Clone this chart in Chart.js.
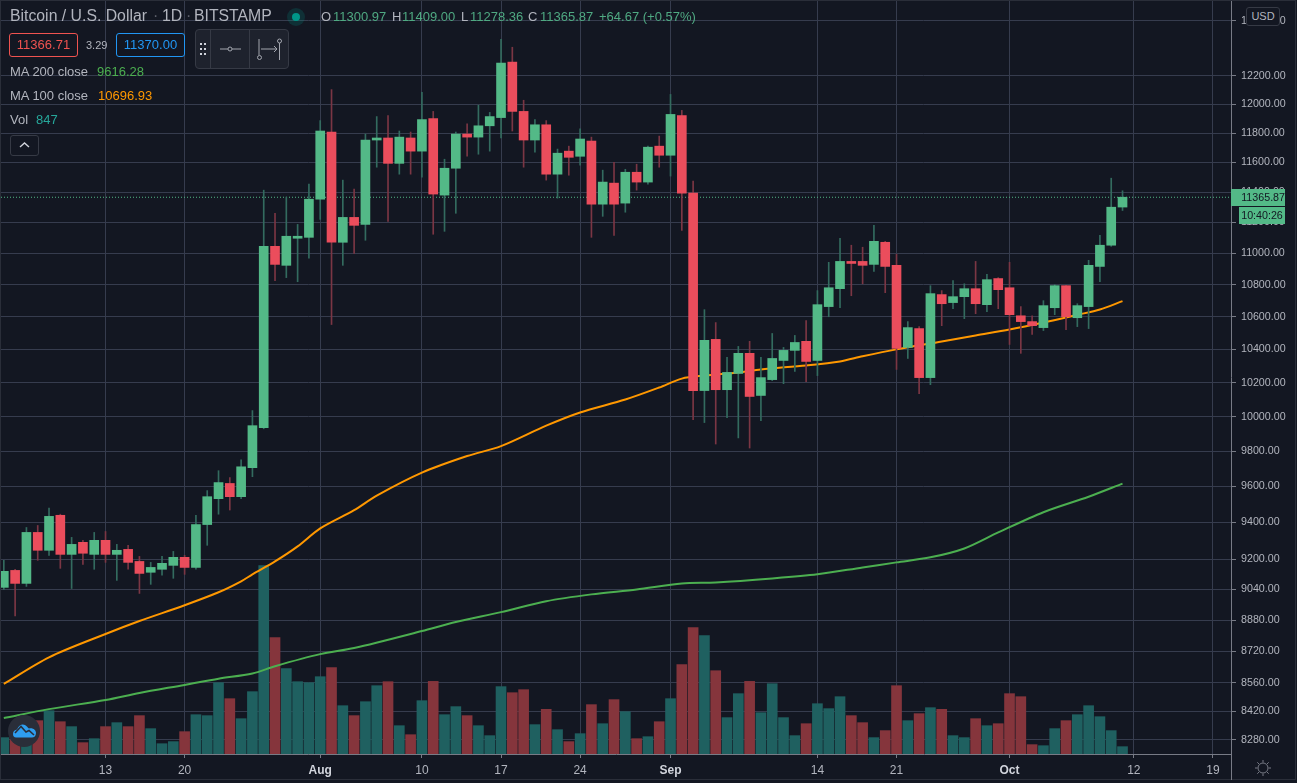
<!DOCTYPE html>
<html>
<head>
<meta charset="utf-8">
<title>Bitcoin / U.S. Dollar</title>
<script src="https://cdn.jsdelivr.net/npm/chart.js@4/dist/chart.umd.min.js"></script>
<style>
  html, body { margin: 0; padding: 0; background: #131722; overflow: hidden; }
  body { width: 1297px; height: 783px; position: relative; font-family: "Liberation Sans", sans-serif; }
  canvas { position: absolute; left: 0; top: 0; }
  .t { position: absolute; white-space: nowrap; font-size: 13px; line-height: 16px; color: #b2b5be; }
  .up { color: #4fa982; }
  .box { position: absolute; box-sizing: border-box; border-radius: 3px; text-align: center; white-space: nowrap; }
  .frame { position: absolute; left: 0; top: 0; width: 1296px; height: 780px; border: 1px solid #2a2e39; box-sizing: border-box; pointer-events: none; }
  svg { position: absolute; }
</style>
</head>
<body>
<canvas id="c" width="1297" height="783" style="width:1297px;height:783px"></canvas>
<div class="frame"></div>
<div style="position:absolute;left:1231px;top:754px;width:1px;height:26px;background:#787b86"></div>

<div class="t" style="left:10px;top:8px;font-size:15.8px">Bitcoin / U.S. Dollar</div>
<div class="t" style="left:153px;top:8px;font-size:15.8px;color:#5d606b">·</div>
<div class="t" style="left:162px;top:8px;font-size:15.8px">1D</div>
<div class="t" style="left:186px;top:8px;font-size:15.8px;color:#5d606b">·</div>
<div class="t" style="left:194px;top:8px;font-size:15.8px">BITSTAMP</div>
<div style="position:absolute;left:287px;top:8px;width:18px;height:18px;border-radius:9px;background:rgba(0,150,136,.2)"></div>
<div style="position:absolute;left:292px;top:13px;width:8px;height:8px;border-radius:4px;background:#009688"></div>

<div class="t" style="left:321px;top:9px">O</div><div class="t up" style="left:333px;top:9px">11300.97</div>
<div class="t" style="left:392px;top:9px">H</div><div class="t up" style="left:402px;top:9px">11409.00</div>
<div class="t" style="left:461px;top:9px">L</div><div class="t up" style="left:470px;top:9px">11278.36</div>
<div class="t" style="left:528px;top:9px">C</div><div class="t up" style="left:540px;top:9px">11365.87</div>
<div class="t up" style="left:599px;top:9px">+64.67 (+0.57%)</div>

<div class="box" style="left:9px;top:33px;width:69px;height:24px;line-height:22px;font-size:13px;border:1px solid #ef5350;color:#ef5350">11366.71</div>
<div class="t" style="left:86px;top:37px;font-size:11px">3.29</div>
<div class="box" style="left:116px;top:33px;width:69px;height:24px;line-height:22px;font-size:13px;border:1px solid #2196f3;color:#2196f3">11370.00</div>

<div style="position:absolute;left:195px;top:29px;width:94px;height:40px;box-sizing:border-box;background:#1e222d;border:1px solid #363a45;border-radius:4px"></div>
<svg style="left:195px;top:29px" width="94" height="40" viewBox="0 0 94 40">
  <g fill="#d1d4dc">
    <rect x="5" y="14" width="2" height="2"/><rect x="9" y="14" width="2" height="2"/>
    <rect x="5" y="19" width="2" height="2"/><rect x="9" y="19" width="2" height="2"/>
    <rect x="5" y="24" width="2" height="2"/><rect x="9" y="24" width="2" height="2"/>
  </g>
  <path d="M15.5 1V39M54.5 1V39" stroke="#363a45"/>
  <g stroke="#a3a6af" fill="none">
    <path d="M25 20H33M37 20H46"/><circle cx="35" cy="20" r="2"/>
    <path d="M64 10V26M66 20H82M79 17L82 20L79 23" />
    <path d="M84.5 14V31"/>
    <circle cx="64.5" cy="28.5" r="2"/><circle cx="84.5" cy="12" r="2"/>
  </g>
</svg>

<div class="t" style="left:10px;top:64px">MA 200 close</div><div class="t" style="left:97px;top:64px;color:#4caf50">9616.28</div>
<div class="t" style="left:10px;top:88px">MA 100 close</div><div class="t" style="left:98px;top:88px;color:#ff9800">10696.93</div>
<div class="t" style="left:10px;top:112px">Vol</div><div class="t" style="left:36px;top:112px;color:#26a69a">847</div>
<div class="box" style="left:10px;top:135px;width:29px;height:21px;border:1px solid #363a45"></div>
<svg style="left:10px;top:135px" width="29" height="21"><path d="M10 12L14.5 8L19 12" stroke="#d1d4dc" stroke-width="1.4" fill="none"/></svg>

<div class="box" style="left:1246px;top:7px;width:34px;height:19px;line-height:17px;font-size:11px;color:#b2b5be;background:#131722;border:1px solid #363a45">USD</div>
<div class="box" id="lastTag" style="left:1231px;width:54px;height:17px;line-height:17px;font-size:10.7px;color:#131722;background:#53b987;border-radius:0;text-align:right">11365.87</div>
<div class="box" style="left:1239px;top:207px;width:46px;height:17px;line-height:17px;font-size:10.7px;color:#131722;background:#53b987;border-radius:0">10:40:26</div>

<svg style="left:8px;top:715px" width="32" height="32" viewBox="0 0 32 32">
  <circle cx="16" cy="16" r="16" fill="#2a2e39"/>
  <path d="M5 19C5 16 7 15 9 14.500C11 10 14 8.500 17 10C19 11 20 13 21 13.500C25 12.500 28 15 28 18C28 21 26 22.500 24 22.500H8C6 22.500 5 21 5 19Z" fill="#2e9ef0"/>
  <path d="M7 18L13 11.500L18 17L21 15.500L26 20" stroke="#2a2e39" stroke-width="1.600" fill="none"/>
</svg>
<svg style="left:1255px;top:760px" width="16" height="16" viewBox="0 0 16 16">
  <g stroke="#787b86" fill="none">
    <circle cx="8" cy="8" r="5"/>
    <path d="M8 0V2.500M8 13.500V16M0 8H2.500M13.500 8H16M2.300 2.300L4 4M12 12L13.700 13.700M2.300 13.700L4 12M12 4L13.700 2.300"/>
  </g>
</svg>

<script>
// daily candles, last entries are empty days to the right of the data
const dates = [
  '07-04','07-05','07-06','07-07','07-08','07-09','07-10','07-11','07-12','07-13','07-14','07-15','07-16','07-17','07-18','07-19','07-20','07-21','07-22','07-23','07-24','07-25','07-26','07-27','07-28','07-29','07-30','07-31',
  '08-01','08-02','08-03','08-04','08-05','08-06','08-07','08-08','08-09','08-10','08-11','08-12','08-13','08-14','08-15','08-16','08-17','08-18','08-19','08-20','08-21','08-22','08-23','08-24','08-25','08-26','08-27','08-28','08-29','08-30','08-31',
  '09-01','09-02','09-03','09-04','09-05','09-06','09-07','09-08','09-09','09-10','09-11','09-12','09-13','09-14','09-15','09-16','09-17','09-18','09-19','09-20','09-21','09-22','09-23','09-24','09-25','09-26','09-27','09-28','09-29','09-30',
  '10-01','10-02','10-03','10-04','10-05','10-06','10-07','10-08','10-09','10-10','10-11','10-12','10-13','10-14','10-15','10-16','10-17','10-18','10-19','10-20','10-21'
];
const opens = [9051,9141,9072,9346,9249,9440,9227,9292,9227,9303,9227,9254,9189,9131,9147,9168,9211,9157,9389,9532,9617,9543,9706,9935,11045,10923,11097,11103,11353,11807,11071,11233,11187,11752,11766,11593,11766,11676,11900,11380,11560,11793,11772,11850,11907,12299,11950,11752,11857,11520,11676,11641,11745,11320,11460,11327,11533,11467,11710,11648,11921,11393,10153,10461,10158,10255,10376,10124,10218,10333,10394,10449,10333,10663,10775,10948,10948,10929,11071,10923,10412,10527,10230,10738,10688,10725,10775,10675,10839,10781,10606,10570,10533,10656,10794,10594,10663,10916,11052,11300.97];
const highs = [9195,9147,9373,9384,9480,9446,9319,9303,9346,9351,9281,9276,9216,9184,9216,9243,9222,9440,9577,9689,9650,9750,10035,11413,11260,11367,11187,11453,11886,12103,11480,11420,11793,11914,11921,11814,11807,12083,11950,11621,11807,11864,11993,11943,12463,12406,12028,11893,11886,11690,11710,11829,11772,11547,11600,11553,11587,11710,11779,12069,11957,11473,10644,10564,10352,10418,10449,10352,10497,10412,10485,10576,10763,10942,11097,11052,11039,11181,11077,10994,10570,10539,10794,10763,10826,10806,10948,10865,10845,10942,10663,10606,10700,10800,10794,10681,10955,11116,11493,11409];
const lows = [9040,8901,9056,9195,9222,9152,9045,9173,9147,9184,9088,9147,9019,9067,9115,9099,9120,9147,9276,9446,9469,9532,9655,9929,10826,10845,10819,10968,11220,10552,10923,11000,11084,11567,11207,11520,11520,11500,11123,11142,11260,11641,11655,11676,11766,11814,11567,11669,11480,11360,11513,11580,11103,11240,11116,11267,11413,11453,11567,11507,11148,9982,9965,9841,9994,9876,9818,9976,10212,10194,10267,10206,10242,10600,10656,10731,10806,10884,10750,10279,10345,10135,10188,10545,10650,10588,10619,10631,10650,10430,10376,10491,10515,10613,10521,10539,10527,10819,11045,11278.36];
const closes = [9136,9072,9346,9249,9434,9227,9281,9233,9303,9227,9249,9184,9125,9157,9179,9211,9157,9389,9543,9622,9543,9711,9947,11045,10929,11110,11110,11353,11814,11071,11233,11181,11752,11766,11593,11772,11676,11893,11387,11560,11793,11772,11850,11914,12292,11950,11752,11857,11520,11662,11634,11759,11320,11467,11320,11533,11467,11703,11648,11929,11393,10153,10455,10158,10261,10376,10118,10230,10345,10394,10442,10327,10675,10781,10948,10935,10923,11077,10916,10406,10533,10230,10744,10681,10725,10775,10681,10832,10769,10613,10570,10545,10669,10794,10600,10669,10923,11052,11300,11365.87];
const volumes = [1890,2230,2430,3850,5000,3730,3160,1310,1770,3160,3620,3160,4430,2930,1190,1430,2580,4540,4430,8240,6390,4080,7200,21750,13440,9860,8350,8240,8930,9970,5580,4430,6040,7890,8350,3270,2230,6160,8390,4540,5470,4430,3270,2120,7780,7080,7430,3390,5160,2810,1430,2350,5700,3500,6280,4890,1770,2000,3730,6390,10320,14590,13670,9620,4200,6970,8390,4770,8120,4200,2120,3500,5810,5240,6620,4430,3620,1890,2700,7890,3850,4660,5350,5160,2120,1890,4080,3270,3500,6970,6620,1080,960,2930,3850,4540,5580,4310,2700,847];

// moving averages, read at the spots where the curve bends
const ma100Dates = ['07-04','07-08','07-13','07-16','07-20','07-23','07-25','07-26','07-28','07-30','08-01','08-04','08-06','08-10','08-14','08-17','08-21','08-24','08-28','08-31','09-02','09-04','09-07','09-09','09-13','09-16','09-18','09-21','09-25','09-28','10-01','10-04','10-07','10-09','10-11'];
const ma100 = [8555,8689,8808,8875,8957,9025,9083,9120,9189,9270,9368,9468,9549,9678,9772,9829,9947,10024,10100,10171,10224,10242,10261,10279,10303,10327,10358,10400,10448,10485,10521,10564,10612,10645,10696.93];
const ma200Dates = ['07-04','07-08','07-13','07-16','07-20','07-23','07-26','07-28','08-01','08-04','08-10','08-13','08-17','08-21','08-25','08-29','09-02','09-05','09-10','09-14','09-18','09-21','09-24','09-27','09-30','10-04','10-08','10-11'];
const ma200 = [8386,8430,8475,8510,8550,8581,8607,8644,8705,8736,8823,8870,8921,8978,9014,9040,9072,9077,9098,9120,9157,9184,9211,9259,9346,9457,9543,9616.28];

const priceTicks = [12600,12200,12000,11800,11600,11400,11200,11000,10800,10600,10400,10200,10000,9800,9600,9400,9200,9040,8880,8720,8560,8420,8280];
const timeTickDates = ['07-13','07-20','08-01','08-10','08-17','08-24','09-01','09-14','09-21','10-01','10-12','10-19'];
const timeTickLabels = ['13','20','Aug','10','17','24','Sep','14','21','Oct','12','19'];
const monthLabels = ['Aug','Sep','Oct'];
const lastPrice = closes[closes.length - 1];

const upColor = '#53b987', downColor = '#eb4d5c';
const upWick = '#336b5f', downWick = '#7b3644';
const upVol = '#1f6060', downVol = '#85353c';
const gridColor = '#363c4e', axisColor = '#787b86', tickText = '#b2b5be';
const font = '"Liberation Sans", sans-serif';

const dayOf = d => dates.indexOf(d);
const isUp = i => closes[i] >= opens[i];
const xMin = -0.25, xMax = 108.6;

const wickData = opens.map((o, i) => ({ x: i, y: [lows[i], highs[i]] }));
const bodyData = opens.map((o, i) => ({ x: i, y: [o, closes[i]] }));
const volData = volumes.map((v, i) => ({ x: i, y: v }));

new Chart(document.getElementById('c').getContext('2d'), {
  type: 'bar',
  data: {
    datasets: [
      { type: 'bar', data: volData, yAxisID: 'vol', order: 6, grouped: false, barThickness: 10,
        backgroundColor: volumes.map((v, i) => isUp(i) ? upVol : downVol) },
      { type: 'line', data: ma200Dates.map((d, i) => ({ x: dayOf(d), y: ma200[i] })), yAxisID: 'y', order: 5,
        borderColor: '#4caf50', borderWidth: 2, pointRadius: 0, tension: 0.3 },
      { type: 'line', data: ma100Dates.map((d, i) => ({ x: dayOf(d), y: ma100[i] })), yAxisID: 'y', order: 4,
        borderColor: '#ff9800', borderWidth: 2, pointRadius: 0, tension: 0.3 },
      { type: 'line', data: [{ x: xMin, y: lastPrice }, { x: xMax, y: lastPrice }], yAxisID: 'y', order: 3,
        borderColor: upColor, borderWidth: 1, borderDash: [1, 2], pointRadius: 0 },
      { type: 'bar', data: wickData, yAxisID: 'y', order: 2, grouped: false, barThickness: 1,
        backgroundColor: opens.map((o, i) => isUp(i) ? upWick : downWick) },
      { type: 'bar', data: bodyData, yAxisID: 'y', order: 1, grouped: false, barThickness: 9,
        backgroundColor: opens.map((o, i) => isUp(i) ? upColor : downColor) }
    ]
  },
  options: {
    responsive: false, animation: false, events: [],
    layout: { padding: { left: 1 } },
    plugins: { legend: { display: false }, tooltip: { enabled: false } },
    scales: {
      x: {
        type: 'linear', min: xMin, max: xMax, offset: false,
        afterBuildTicks: s => { s.ticks = timeTickDates.map(d => ({ value: dayOf(d) })); },
        afterFit: s => { s.height = 29; s.paddingLeft = 0; s.paddingRight = 0; },
        grid: { color: gridColor, offset: false, tickLength: 4, tickColor: axisColor },
        border: { color: axisColor },
        ticks: {
          autoSkip: false, maxRotation: 0, padding: 5,
          callback: (v, i) => timeTickLabels[i],
          color: ctx => monthLabels.includes(timeTickLabels[ctx.index]) ? '#d1d4dc' : tickText,
          font: ctx => ({ family: font, size: 12, weight: monthLabels.includes(timeTickLabels[ctx.index]) ? 'bold' : 'normal' })
        }
      },
      y: {
        type: 'logarithmic', position: 'right', min: 8212, max: 12753, bounds: 'data',
        afterBuildTicks: s => { s.ticks = priceTicks.map(v => ({ value: v })); },
        afterFit: s => { s.width = 66; s.paddingTop = 0; s.paddingBottom = 0; },
        grid: { color: gridColor, tickLength: 5, tickColor: axisColor },
        border: { color: axisColor },
        ticks: {
          autoSkip: false, padding: 5, color: tickText, font: { family: font, size: 10.7 },
          callback: v => v.toFixed(2)
        }
      },
      vol: { type: 'linear', display: false, min: 0, max: 87087 }
    }
  },
  plugins: [{
    id: 'lastTag',
    afterRender(chart) {
      const y = chart.scales.y.getPixelForValue(lastPrice);
      document.getElementById('lastTag').style.top = Math.round(y - 8.5) + 'px';
    }
  }]
});
</script>
</body>
</html>
